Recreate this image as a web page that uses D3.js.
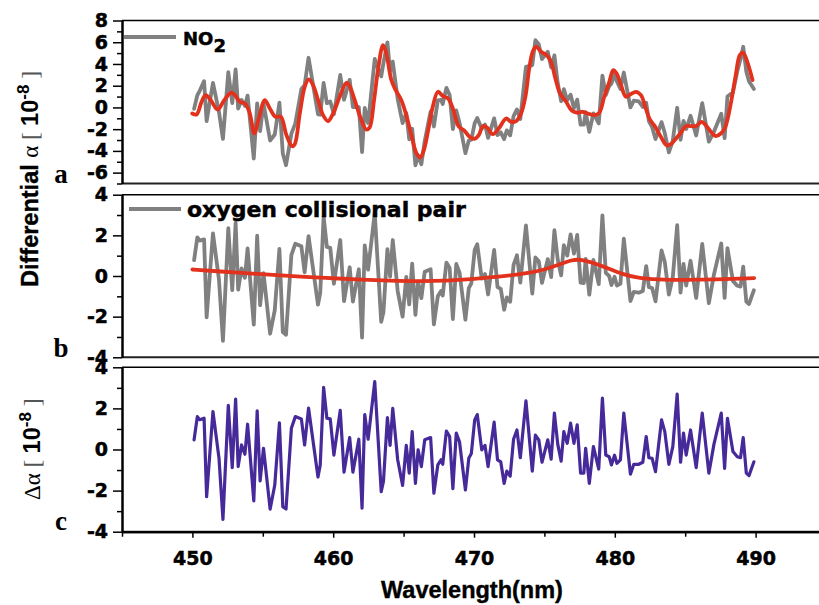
<!DOCTYPE html>
<html>
<head>
<meta charset="utf-8">
<script src="https://cdn.jsdelivr.net/npm/d3@7/dist/d3.min.js"></script>
<style>
body { margin: 0; background: #fff; }
</style>
</head>
<body>
<div id="container"></div>
<script>
var wl = [450.12,450.35,450.52,450.83,451.01,451.46,451.89,452.17,452.55,452.83,453.07,453.25,453.49,453.73,453.92,
  454.36,454.6,454.81,455.05,455.52,455.85,456.18,456.42,456.65,457.03,457.31,457.74,457.97,458.25,458.92,459.08,
  459.32,459.55,459.79,460.05,460.5,460.77,461.17,461.4,461.82,462.05,462.24,462.48,462.95,463.41,463.57,463.85,
  464.04,464.23,464.58,464.93,465.19,465.4,465.61,465.84,466.03,466.26,466.5,466.92,467.15,467.43,467.66,467.78,
  468.04,468.27,468.5,468.74,468.97,469.39,469.63,469.81,470.05,470.23,470.55,470.78,471.0,471.43,471.67,471.9,
  472.14,472.33,472.57,472.81,473.05,473.29,473.69,474.14,474.36,474.6,474.83,475.24,475.48,475.71,475.95,476.19,
  476.38,476.62,476.86,477.1,477.33,477.57,477.8,477.93,478.19,478.48,478.86,479.12,479.36,479.6,479.76,479.98,
  480.15,480.4,480.64,481.11,481.35,481.7,481.99,482.23,482.42,482.65,482.89,483.32,483.55,483.84,484.12,484.43,
  484.67,484.88,485.07,485.38,485.78,486.21,486.68,487.04,487.56,487.8,488.0,488.39,488.7,488.93,489.12,489.34,
  489.53,489.88];

// panel a: NO2 differential cross-section (grey)
var no2Spec = [-0.13,1.12,1.53,2.42,-1.26,2.25,-0.44,-2.9,3.24,0.4,3.49,-0.1,0.69,0.14,1.09,
  -4.7,0.38,-2.17,0.37,-3.04,-2.49,0.44,-4.23,-5.32,-2.41,-1.47,1.7,2.05,4.57,-0.63,-0.67,
  2.25,0.39,0.54,-0.63,2.99,0.71,2.54,0.04,0.02,-4.11,-0.05,-1.43,4.46,2.86,4.09,5.98,
  3.33,4.21,0.77,-1.44,-0.51,-2.93,-1.96,-5.32,-4.4,-5.23,-3.1,-0.36,-1.75,0.65,0.69,0.32,
  1.8,1.14,-2.0,-0.27,-1.41,-4.21,-3.05,-2.97,-1.44,-0.97,-1.97,-1.58,-2.8,-1.01,-2.55,-2.29,
  -2.92,-2.11,-2.57,-0.79,-0.19,-1.06,3.73,3.9,6.19,5.81,4.46,5.13,3.68,4.79,2.21,0.58,
  1.68,0.66,1.17,-0.07,0.72,-1.59,-1.59,-0.44,-2.25,-0.55,-1.47,2.93,1.13,1.97,2.19,3.04,
  2.39,1.7,3.21,0.0,0.63,0.55,0.05,0.44,-1.25,-1.82,-2.91,-1.35,-2.36,-4.14,-3.05,-0.03,
  -2.98,-1.23,-1.99,-0.77,-2.58,0.39,-3.15,-2.24,-0.58,-2.83,1.0,1.39,3.33,4.46,5.58,3.3,
  2.41,1.7];

// panel b: oxygen collisional pair (grey)
var o4Spec = [0.78,1.9,1.74,1.8,-2.03,2.1,-0.2,-3.19,2.35,-0.7,2.62,-0.67,0.37,-0.09,1.36,
  -2.39,1.98,-1.44,0.14,-2.84,-1.68,1.33,-2.76,-2.89,1.03,1.59,1.46,0.18,1.96,-1.41,-0.83,
  2.93,1.43,1.39,-0.38,1.77,-1.24,0.43,-1.26,0.33,-3.03,1.51,0.31,3.1,-2.26,-1.77,1.32,
  -0.03,1.77,-0.74,-2.0,-0.05,-1.4,0.61,-1.91,-0.28,-1.09,0.21,0.33,-2.38,-1.0,-0.74,-0.96,
  0.66,0.4,-2.12,0.59,0.18,-2.15,-0.6,-0.36,1.29,1.56,-0.13,0.1,-0.91,1.28,-0.54,-0.63,
  -1.66,-1.05,-1.27,0.55,1.02,-0.32,2.49,-0.87,0.91,0.72,-0.34,0.83,-0.05,2.25,0.79,0.03,
  1.52,1.0,2.05,1.1,2.02,-0.33,-0.35,0.84,-0.92,0.79,-0.4,2.98,0.15,0,-0.45,-0.04,
  -0.47,-0.37,1.84,-1.23,-0.78,-0.82,-0.74,0.49,-0.55,-0.59,-1.25,1.26,0.69,-0.91,-0.05,2.5,
  -0.82,0.6,-0.47,0.75,-1.08,1.58,-1.34,0.07,1.6,-1.08,1.37,-0.24,-0.48,-0.52,0.46,-1.26,
  -1.38,-0.7];

// panel c: residual
var residual = [0.47,1.6,1.45,1.52,-2.3,1.85,-0.43,-3.4,2.15,-0.88,2.45,-0.83,0.22,-0.23,1.23,
  -2.5,1.88,-1.53,0.06,-2.9,-1.73,1.3,-2.78,-2.9,1.03,1.6,1.49,0.22,2.01,-1.34,-0.75,
  3.02,1.52,1.49,-0.27,1.9,-1.1,0.58,-1.1,0.5,-2.85,1.7,0.5,3.3,-2.05,-1.55,1.55,
  0.2,2.0,-0.5,-1.75,0.2,-1.15,0.87,-1.65,-0.02,-0.83,0.47,0.58,-2.13,-0.75,-0.5,-0.72,
  0.9,0.63,-1.9,0.8,0.38,-1.97,-0.43,-0.2,1.44,1.7,-0.02,0.2,-0.83,1.33,-0.5,-0.6,
  -1.65,-1.05,-1.3,0.5,0.95,-0.4,2.37,-1.05,0.7,0.47,-0.62,0.47,-0.47,1.77,0.25,-0.57,
  0.87,0.3,1.28,0.3,1.2,-1.15,-1.15,0.06,-1.65,0.14,-0.95,2.5,-0.27,-0.35,-0.75,-0.28,
  -0.67,-0.5,1.77,-1.2,-0.72,-0.72,-0.62,0.63,-0.4,-0.43,-1.08,1.44,0.87,-0.72,0.14,2.7,
  -0.62,0.8,-0.27,0.95,-0.88,1.77,-1.15,0.25,1.77,-0.92,1.52,-0.1,-0.35,-0.4,0.58,-1.15,
  -1.27,-0.6];

// red fitted NO2 curve (panel a)
var no2FitWl = [449.99,450.3,450.65,450.94,451.31,451.79,452.26,452.73,453.02,453.37,453.73,454.08,454.39,454.72,
  455.14,455.5,455.9,456.28,456.68,457.08,457.27,457.63,457.98,458.26,458.57,458.93,459.28,459.63,459.99,460.46,
  460.94,461.17,461.53,461.95,462.35,462.59,462.9,463.18,463.54,463.77,464.13,464.41,464.84,465.19,465.55,465.9,
  466.18,466.44,466.77,467.08,467.44,467.79,468.15,468.5,468.9,469.33,469.68,470.03,470.34,470.63,470.91,471.33,
  471.76,472.28,472.63,472.99,473.34,473.65,473.94,474.17,474.41,474.76,475.16,475.47,475.78,476.11,476.54,476.96,
  477.36,477.72,478.07,478.55,478.9,479.25,479.61,479.89,480.13,480.44,480.79,481.15,481.5,481.86,482.16,482.49,
  482.87,483.27,483.68,483.98,484.29,484.69,485.05,485.4,485.76,486.16,486.51,486.82,487.17,487.53,487.84,488.24,
  488.59,488.88,489.11,489.35,489.59,489.78];
var no2Fit = [-0.56,-0.65,0.52,1.13,0.67,-0.19,0.67,1.35,1.13,0.52,0.37,-0.56,-2.39,-1.0,
  0.67,-0.1,-0.86,-0.86,-2.55,-3.57,-3.38,-0.56,1.9,2.58,2.06,0.67,-0.71,-1.26,-0.56,0.98,
  2.27,1.96,0.67,-1.0,-2.03,-1.84,0.67,3.43,5.74,4.97,2.52,1.66,0.67,-0.71,-2.55,-4.18,
  -4.61,-3.93,-1.94,0.12,1.44,1.04,0.83,-0.1,-1.72,-2.15,-2.7,-2.9,-2.55,-1.72,-1.84,-2.46,
  -1.94,-1.02,-1.32,-1.26,-0.56,0.98,3.74,5.13,5.59,5.13,4.82,4.2,2.67,1.29,0.52,-0.31,
  -0.49,-0.4,-0.56,-0.71,-0.49,0.98,2.36,3.44,3.13,2.06,0.98,1.23,1.44,1.13,0.06,-1.1,
  -1.78,-2.7,-3.47,-3.38,-2.95,-2.33,-1.72,-1.72,-1.72,-1.32,-1.72,-2.24,-2.64,-2.4,-1.84,0.37,
  2.98,4.82,5.03,4.42,3.44,2.52];

// red fitted O4 curve (panel b)
var o4FitWl = [450,452,454,456,458,460,462,464,466,468,470,472,473.5,475,476,477,477.5,478.5,479.5,480.5,481.5,483,485,487,489.9];
var o4Fit = [0.32,0.22,0.13,0.04,-0.04,-0.11,-0.18,-0.23,-0.26,-0.24,-0.15,-0.02,0.1,0.3,0.55,0.8,0.82,0.65,0.38,0.1,-0.08,-0.18,-0.2,-0.18,-0.1];

var xMajor = [450, 460, 470, 480, 490];
var xMinor = [445, 455, 465, 475, 485, 495];

var width = 819, height = 605;
var svg = d3.select("#container").append("svg")
  .attr("width", width).attr("height", height);

var x = d3.scaleLinear().domain([445, 495]).range([122, 826]);

var gray = "#808080", red = "#e2321d", purple = "#472a9a";
var sans = "'Liberation Sans', Arial, sans-serif";
var wide = "'DejaVu Sans', Verdana, sans-serif";
var serif = "'Liberation Serif', 'Times New Roman', serif";

function zip(xs, ys) {
  return xs.map(function(d, i) { return [d, ys[i]]; });
}

// bold labels in the figure are heavy, so give them a hairline outline
function heavy(sel, size) {
  sel.style("font-family", wide).style("font-weight", "bold").style("font-size", size + "px")
    .attr("fill", "#000").attr("stroke", "#000").attr("stroke-width", 0.5);
}

function panel(y, majors, minors) {
  var g = svg.append("g");
  var r = y.range();
  g.append("line").attr("x1", 122).attr("x2", width).attr("y1", r[1]).attr("y2", r[1])
    .attr("stroke", "#000").attr("stroke-width", 1.5);
  g.append("line").attr("x1", 122).attr("x2", width).attr("y1", r[0]).attr("y2", r[0])
    .attr("stroke", "#222").attr("stroke-width", 2);

  var minor = g.append("g").attr("transform", "translate(122,0)")
    .call(d3.axisLeft(y).tickValues(minors).tickSize(5).tickSizeOuter(0).tickFormat(""));
  var major = g.append("g").attr("transform", "translate(122,0)")
    .call(d3.axisLeft(y).tickValues(majors).tickSize(9).tickSizeOuter(0).tickPadding(5)
      .tickFormat(function(d) { return String(d); }));
  [minor, major].forEach(function(a) {
    a.select(".domain").attr("stroke", "#000").attr("stroke-width", 2);
    a.selectAll(".tick line").attr("stroke", "#000").attr("stroke-width", 1.5);
  });
  heavy(major.selectAll(".tick text"), 19);
  return g;
}

function drawLine(g, y, pts, color, w, curve) {
  var line = d3.line()
    .x(function(d) { return x(d[0]); })
    .y(function(d) { return y(d[1]); })
    .curve(curve || d3.curveLinear);
  g.append("path").datum(pts)
    .attr("d", line)
    .attr("fill", "none")
    .attr("stroke", color)
    .attr("stroke-width", w)
    .attr("stroke-linejoin", "round")
    .attr("stroke-linecap", "round");
}

// ---- panel a
var ya = d3.scaleLinear().domain([-7, 8]).range([183.5, 20.5]);
var ga = panel(ya, [-6, -4, -2, 0, 2, 4, 6, 8], [-7, -5, -3, -1, 1, 3, 5, 7]);
drawLine(ga, ya, zip(wl, no2Spec), gray, 3.8);
drawLine(ga, ya, zip(no2FitWl, no2Fit), red, 3.8, d3.curveCatmullRom);
ga.append("line").attr("x1", 124).attr("x2", 176).attr("y1", 37).attr("y2", 37)
  .attr("stroke", gray).attr("stroke-width", 3.8);
var ta = ga.append("text").attr("x", 183).attr("y", 45);
heavy(ta, 18);
ta.append("tspan").text("NO");
ta.append("tspan").attr("dy", 7).text("2");

// ---- panel b
var yb = d3.scaleLinear().domain([-4, 4]).range([357.3, 194.7]);
var gb = panel(yb, [-4, -2, 0, 2, 4], [-3, -1, 1, 3]);
drawLine(gb, yb, zip(wl, o4Spec), gray, 3.8);
drawLine(gb, yb, zip(o4FitWl, o4Fit), red, 3.8, d3.curveBasis);
gb.append("line").attr("x1", 129).attr("x2", 181).attr("y1", 209).attr("y2", 209)
  .attr("stroke", gray).attr("stroke-width", 3.8);
heavy(gb.append("text").attr("x", 187).attr("y", 217).text("oxygen collisional pair"), 22);

// ---- panel c
var yc = d3.scaleLinear().domain([-4, 4]).range([531.7, 367.3]);
var gc = panel(yc, [-4, -2, 0, 2, 4], [-3, -1, 1, 3]);
drawLine(gc, yc, zip(wl, residual), purple, 3.2);

var xMinorAxis = gc.append("g").attr("transform", "translate(0,531.7)")
  .call(d3.axisBottom(x).tickValues(xMinor).tickSize(5).tickSizeOuter(0).tickFormat(""));
var xAxis = gc.append("g").attr("transform", "translate(0,531.7)")
  .call(d3.axisBottom(x).tickValues(xMajor).tickSize(6).tickSizeOuter(0).tickPadding(14)
    .tickFormat(function(d) { return String(d); }));
[xMinorAxis, xAxis].forEach(function(a) {
  a.select(".domain").attr("stroke", "#000").attr("stroke-width", 2);
  a.selectAll(".tick line").attr("stroke", "#000").attr("stroke-width", 1.5);
});
heavy(xAxis.selectAll(".tick text"), 19);

svg.append("text").attr("x", 472).attr("y", 598).attr("text-anchor", "middle")
  .style("font-family", sans).style("font-weight", "bold").style("font-size", "23.5px")
  .attr("stroke", "#000").attr("stroke-width", 0.4)
  .text("Wavelength(nm)");

// panel letters
[["a", 183], ["b", 357], ["c", 530]].forEach(function(p) {
  svg.append("text").attr("x", 61).attr("y", p[1]).attr("text-anchor", "middle")
    .style("font-family", serif).style("font-weight", "bold").style("font-size", "27px")
    .text(p[0]);
});

// y titles
function bracketTitle(t) {
  t.append("tspan").style("font-family", serif).style("font-size", "24px").attr("fill", "#555").text("[ ");
  t.append("tspan").style("font-family", sans).style("font-weight", "bold").style("font-size", "23.5px").text("10");
  t.append("tspan").style("font-family", sans).style("font-weight", "bold").style("font-size", "17px")
    .attr("dy", -9).text("-8");
  t.append("tspan").style("font-family", serif).style("font-size", "24px").attr("fill", "#555")
    .attr("dy", 9).text(" ]");
}
var t1 = svg.append("text").attr("transform", "translate(38,287) rotate(-90)");
t1.append("tspan").style("font-family", sans).style("font-weight", "bold").style("font-size", "23.5px")
  .attr("stroke", "#000").attr("stroke-width", 0.4)
  .text("Differential ");
t1.append("tspan").style("font-family", serif).style("font-size", "23px").text("\u03b1 ");
bracketTitle(t1);

var t2 = svg.append("text").attr("transform", "translate(40,500) rotate(-90)");
t2.append("tspan").style("font-family", serif).style("font-size", "23px").text("\u0394\u03b1 ");
bracketTitle(t2);
</script>
</body>
</html>
